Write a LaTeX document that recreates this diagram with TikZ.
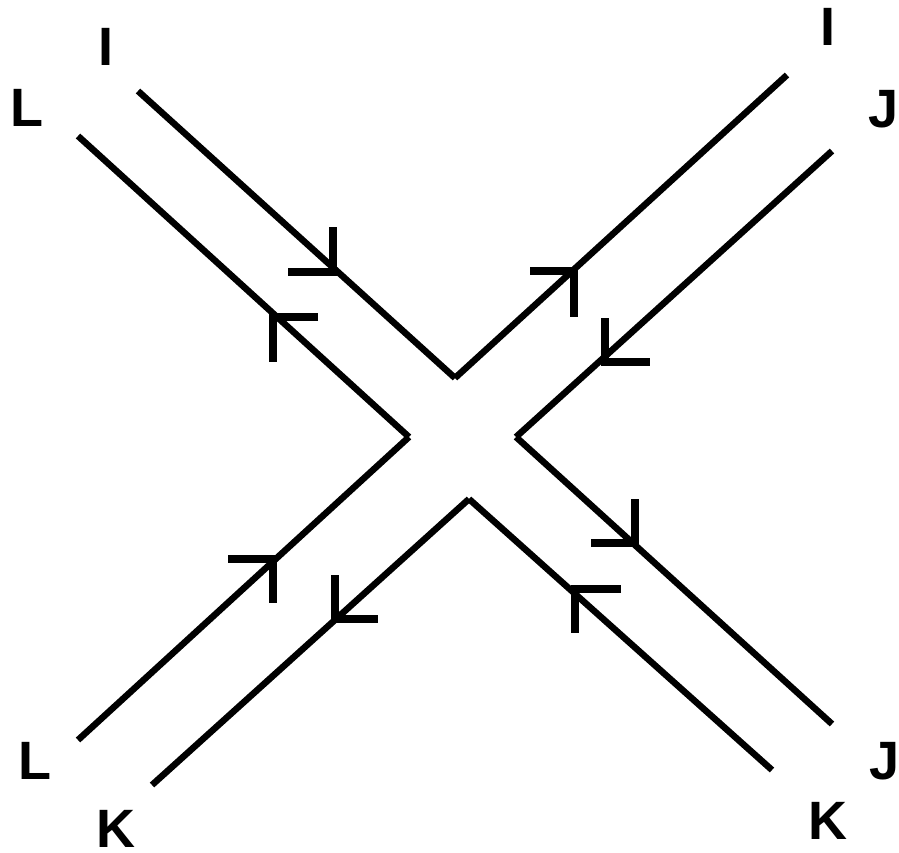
\documentclass[tikz,border=0pt]{standalone}
\usepackage{fontspec}
\setmainfont{Liberation Sans}
\begin{document}
\begin{tikzpicture}[x=1pt,y=-1pt,
  wire/.style={line width=6.5pt,line cap=butt},
  barb/.style={line width=7.5pt,line cap=butt},
  lab/.style={anchor=base,inner sep=0pt,font=\fontsize{54}{54}\selectfont\bfseries}]
\useasboundingbox (0,0) rectangle (899,853);
% line end points
\coordinate (i1) at (138,91);  \coordinate (ci) at (455,378); \coordinate (i2) at (787,75);
\coordinate (l1) at (78,136);  \coordinate (cl) at (409,437); \coordinate (l2) at (78,740);
\coordinate (j1) at (832,151); \coordinate (cj) at (516,437); \coordinate (j2) at (832,724);
\coordinate (k1) at (152,785); \coordinate (ck) at (469,499); \coordinate (k2) at (772,770);
\draw[wire] (i1) -- (ci); \draw[wire] (ci) -- (i2);
\draw[wire] (l1) -- (cl); \draw[wire] (cl) -- (l2);
\draw[wire] (j1) -- (cj); \draw[wire] (cj) -- (j2);
\draw[wire] (k1) -- (ck); \draw[wire] (ck) -- (k2);
% arrow barbs
\draw[barb] (333,227) -- (333,272) -- (288,272);
\draw[barb] (318,317) -- (273,317) -- (273,362);
\draw[barb] (530,271) -- (574,271) -- (574,317);
\draw[barb] (605,318) -- (605,362) -- (650,362);
\draw[barb] (228,559) -- (273,559) -- (273,603);
\draw[barb] (335,575) -- (335,619) -- (378,619);
\draw[barb] (635,499) -- (635,543) -- (591,543);
\draw[barb] (621,589) -- (575,589) -- (575,633);
% labels
\node[lab] (tI1) at (106,66) {I};
\node[lab] (tL1) at (27,127) {L};
\node[lab] (tI2) at (828,46) {I};
\node[lab] (tJ1) at (884,128) {J};
\node[lab] (tL2) at (35,779) {L};
\node[lab] (tK1) at (116,847) {K};
\node[lab] (tJ2) at (885,779) {J};
\node[lab] (tK2) at (828,839) {K};
\end{tikzpicture}
\end{document}
